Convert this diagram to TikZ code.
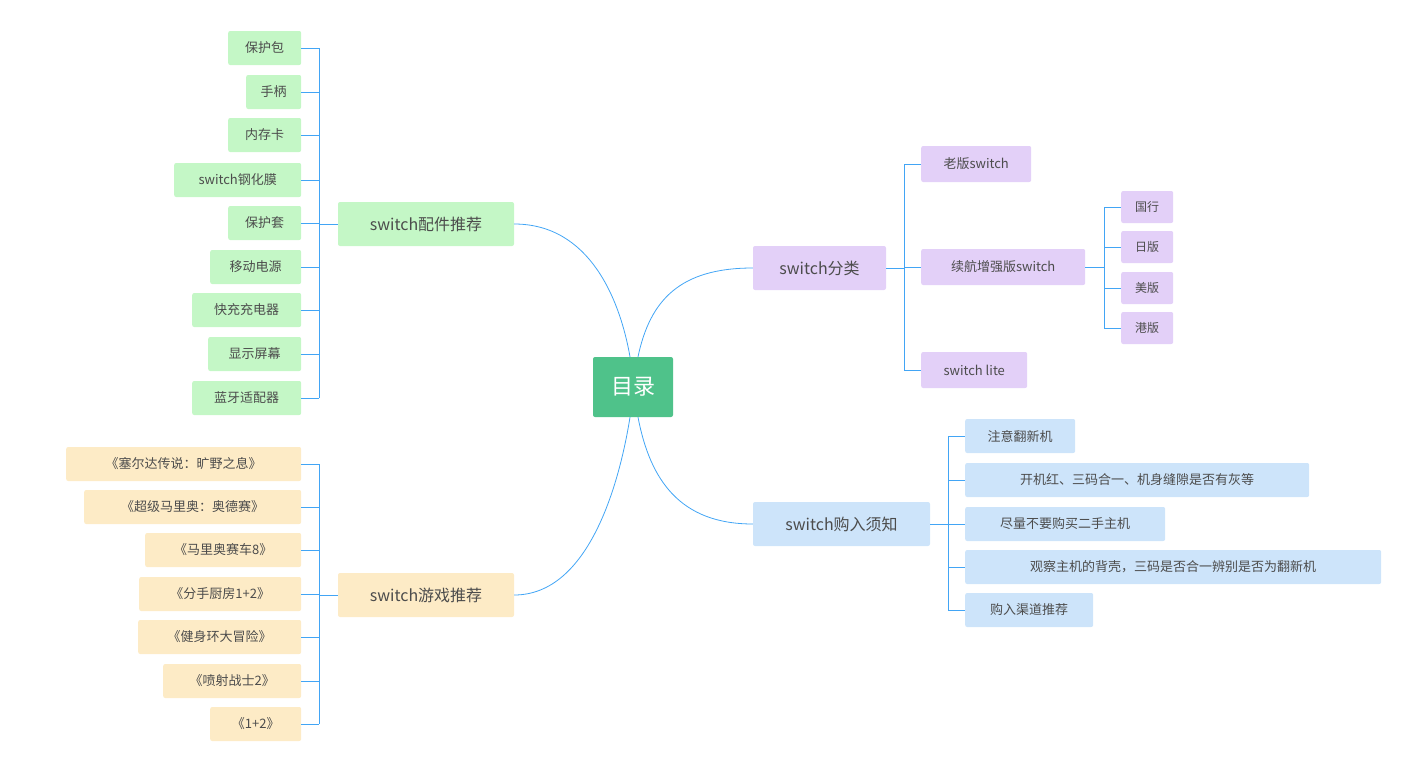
\documentclass[tikz,border=0pt]{standalone}
\usepackage{fontspec}
\setmainfont{Noto Sans CJK SC}
\begin{document}
\begin{tikzpicture}[x=1pt,y=-1pt,
  box/.style={rounded corners=2pt,inner sep=0pt,text=black!70,font=\fontsize{13}{13}\selectfont},
  ln/.style={draw=lineblue,line width=0.8pt},
  tk/.style={draw=lineblue,line width=0.6pt}]
\definecolor{lineblue}{HTML}{42A5F5}
\definecolor{cgreen}{HTML}{C4F7C6}
\definecolor{cyel}{HTML}{FDEBC6}
\definecolor{cpur}{HTML}{E3D0F8}
\definecolor{cblue}{HTML}{CDE4FA}
\definecolor{croot}{HTML}{4FC28A}
\useasboundingbox (0,0) rectangle (1419,771);
\newcommand\bx[7]{\node[box,fill=#6,minimum width={#3-#2},minimum height=#5,anchor=west,font=\fontsize{#7}{#7}\selectfont] (#1) at (#2,#4) {\strut\raisebox{0pt}{#7}};}
% root
\node[box,fill=croot,text=white,minimum width=80,minimum height=60,font=\fontsize{22}{22}\selectfont] (root) at (633,387) {目录};
% main branches
\node[box,fill=cgreen,minimum width=176,minimum height=44,font=\fontsize{16}{16}\selectfont] (pj) at (426,224) {switch配件推荐};
\node[box,fill=cyel,minimum width=176,minimum height=44,font=\fontsize{16}{16}\selectfont] (yx) at (426,595) {switch游戏推荐};
\node[box,fill=cpur,minimum width=133,minimum height=44,font=\fontsize{16}{16}\selectfont] (fl) at (819.5,268) {switch分类};
\node[box,fill=cblue,minimum width=177,minimum height=44,font=\fontsize{16}{16}\selectfont] (gr) at (841.5,524) {switch购入须知};
\draw[ln] (root.north) ++(-3,0) .. controls (620,300) and (590,224) .. (pj.east);
\draw[ln] (root.south) ++(-3,0) .. controls (620,480) and (590,595) .. (yx.east);
\draw[ln] (root.north) ++(5,0) .. controls (650,300) and (680,268) .. (fl.west);
\draw[ln] (root.south) ++(5,0) .. controls (650,480) and (680,524) .. (gr.west);
% left green children
\foreach \n/\l/\y/\t in {a1/228/48/保护包,a2/246/92/手柄,a3/228/135/内存卡,a4/174/180/switch钢化膜,a5/228/223/保护套,a6/210/267/移动电源,a7/192/310/快充充电器,a8/208/354/显示屏幕,a9/192/398/蓝牙适配器}{
  \node[box,fill=cgreen,minimum width={301-\l},minimum height=34,anchor=west] (\n) at (\l,\y) {\t};
  \draw[tk] (\n.east) -- (319,\y);
}
\draw[tk] (319,48) -- (319,398);
\draw[tk] (319,224) -- (pj.west);
% left yellow children
\foreach \n/\l/\y/\t in {b1/66/464/《塞尔达传说：旷野之息》,b2/84/507/《超级马里奥：奥德赛》,b3/145/550/《马里奥赛车8》,b4/139/594/《分手厨房1+2》,b5/138/637/《健身环大冒险》,b6/163/681/《喷射战士2》,b7/210/724/《1+2》}{
  \node[box,fill=cyel,minimum width={301-\l},minimum height=34,anchor=west] (\n) at (\l,\y) {\t};
  \draw[tk] (\n.east) -- (319,\y);
}
\draw[tk] (319,464) -- (319,724);
\draw[tk] (319,595) -- (yx.west);
% purple
\foreach \n/\r/\y/\t in {c1/1031/164/老版switch,c2/1085/267/续航增强版switch,c3/1027/370/switch lite}{
  \node[box,fill=cpur,minimum width={\r-921},minimum height=36,anchor=west] (\n) at (921,\y) {\t};
  \draw[tk] (904,\y) -- (\n.west);
}
\draw[tk] (904,164) -- (904,370);
\draw[tk] (fl.east) -- (904,268);
\foreach \n/\y/\t in {d1/207/国行,d2/247/日版,d3/288/美版,d4/328/港版}{
  \node[box,fill=cpur,minimum width=52,minimum height=32,anchor=west,font=\fontsize{12}{12}\selectfont] (\n) at (1121,\y) {\t};
  \draw[tk] (1104,\y) -- (\n.west);
}
\draw[tk] (1104,207) -- (1104,328);
\draw[tk] (c2.east) -- (1104,267);
% blue
\foreach \n/\r/\y/\t in {e1/1075/436/注意翻新机,e2/1309/480/开机红、三码合一、机身缝隙是否有灰等,e3/1165/524/尽量不要购买二手主机,e4/1381/567/观察主机的背壳，三码是否合一辨别是否为翻新机,e5/1093/610/购入渠道推荐}{
  \node[box,fill=cblue,minimum width={\r-965},minimum height=34,anchor=west] (\n) at (965,\y) {\t};
  \draw[tk] (948,\y) -- (\n.west);
}
\draw[tk] (948,436) -- (948,610);
\draw[tk] (gr.east) -- (948,524);
\end{tikzpicture}
\end{document}
